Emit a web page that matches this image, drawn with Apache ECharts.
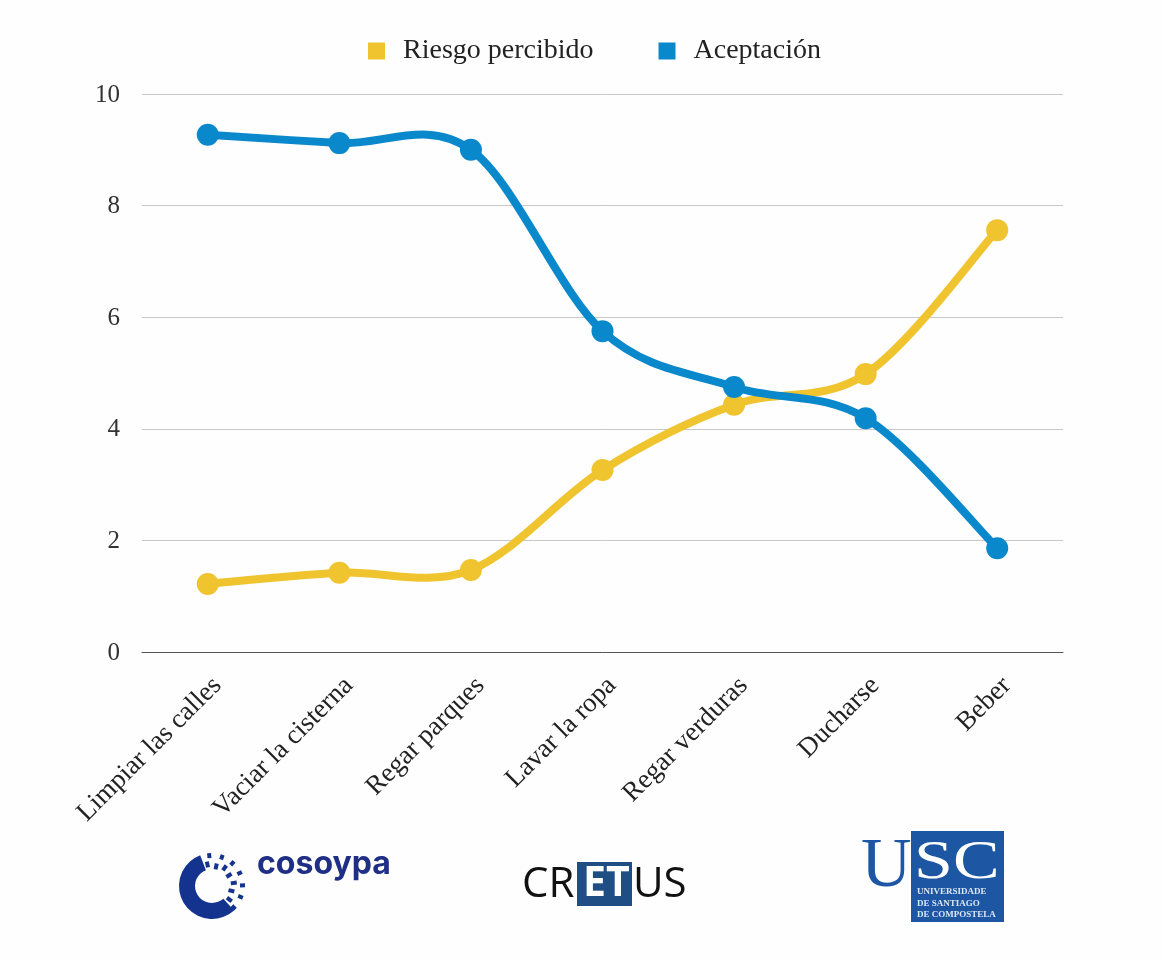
<!DOCTYPE html>
<html>
<head>
<meta charset="utf-8">
<script src="https://cdn.jsdelivr.net/npm/echarts@6/dist/echarts.min.js"></script>
<style>
html, body { margin: 0; padding: 0; background: #fefefe; }
#chart { width: 1162px; height: 960px; }
</style>
</head>
<body>
<div id="chart"></div>
<script>
var categories = ['Limpiar las calles', 'Vaciar la cisterna', 'Regar parques', 'Lavar la ropa', 'Regar verduras', 'Ducharse', 'Beber'];
var riesgo = [1.22, 1.42, 1.47, 3.26, 4.43, 4.98, 7.56];
var aceptacion = [9.27, 9.12, 9.0, 5.75, 4.75, 4.19, 1.86];

var serif = '"Liberation Serif", serif';
var yellow = '#efc42f';
var blue = '#0a88cc';

// logo cosoypa: dashes around the right side of the ring
var navy = '#14338f';
var ringDashes = [];
var dashAngles = [-102, -78, -55, -32, -8, 14, 38];
dashAngles.forEach(function (a, i) {
    var t = a * Math.PI / 180;
    var cx = 212, cy = 886;
    var inner = i % 2 ? [17, 23] : [19, 25];
    ringDashes.push({
        type: 'line',
        shape: {
            x1: cx + inner[0] * Math.cos(t), y1: cy + inner[0] * Math.sin(t),
            x2: cx + inner[1] * Math.cos(t), y2: cy + inner[1] * Math.sin(t)
        },
        style: { stroke: navy, lineWidth: 4 }
    });
    ringDashes.push({
        type: 'line',
        shape: {
            x1: cx + 28 * Math.cos(t + 0.12), y1: cy + 28 * Math.sin(t + 0.12),
            x2: cx + 33 * Math.cos(t + 0.12), y2: cy + 33 * Math.sin(t + 0.12)
        },
        style: { stroke: navy, lineWidth: 4 }
    });
});

var logos = [
    {
        type: 'sector',
        shape: { cx: 212, cy: 886, r: 33, r0: 17, startAngle: 48 * Math.PI / 180, endAngle: 249 * Math.PI / 180, clockwise: true },
        style: { fill: navy }
    },
    { type: 'text', x: 257, y: 848, style: { text: 'cosoypa', font: 'bold 32px Inter, sans-serif', fill: '#1f2f85' } },

    { type: 'rect', shape: { x: 577, y: 862, width: 55, height: 44 }, style: { fill: '#1f4e85' } },
    { type: 'text', x: 522, y: 864, style: { text: 'CR', font: '42px "Open Sans", sans-serif', fill: '#111111' } },
    { type: 'text', x: 583, y: 864, style: { text: 'ET', font: 'bold 41px "Open Sans", sans-serif', fill: '#ffffff' } },
    { type: 'text', x: 633, y: 864, style: { text: 'US', font: '42px "Open Sans", sans-serif', fill: '#111111' } },

    { type: 'rect', shape: { x: 911, y: 831, width: 93, height: 91 }, style: { fill: '#1d57a4' } },
    { type: 'text', x: 861, y: 833, style: { text: 'U', font: '70px ' + serif, fill: '#1d57a4' } },
    { type: 'text', x: 914, y: 836, scaleY: 0.78, style: { text: 'SC', font: '70px ' + serif, fill: '#ffffff' } },
    { type: 'text', x: 917, y: 887, style: { text: 'UNIVERSIDADE', font: 'bold 9px ' + serif, fill: '#dbe6f4' } },
    { type: 'text', x: 917, y: 899, style: { text: 'DE SANTIAGO', font: 'bold 9px ' + serif, fill: '#dbe6f4' } },
    { type: 'text', x: 917, y: 910, style: { text: 'DE COMPOSTELA', font: 'bold 9px ' + serif, fill: '#dbe6f4' } }
].concat(ringDashes);

// one curved piece between two neighbouring values (cardinal spline through the points)
function curveItem(values, color) {
    return function (params, api) {
        var i = params.dataIndex;
        if (i >= values.length - 1) return null;
        var pt = function (k) {
            var n = Math.max(0, Math.min(values.length - 1, k));
            return api.coord([n, values[n]]);
        };
        var p0 = pt(i - 1), p1 = pt(i), p2 = pt(i + 1), p3 = pt(i + 2);
        return {
            type: 'bezierCurve',
            shape: {
                x1: p1[0], y1: p1[1],
                cpx1: p1[0] + (p2[0] - p0[0]) / 6, cpy1: p1[1] + (p2[1] - p0[1]) / 6,
                cpx2: p2[0] - (p3[0] - p1[0]) / 6, cpy2: p2[1] - (p3[1] - p1[1]) / 6,
                x2: p2[0], y2: p2[1]
            },
            style: { stroke: color, lineWidth: 8, fill: 'none', lineCap: 'round' }
        };
    };
}

function pairs(values) {
    return values.map(function (v, i) { return [i, v]; });
}

var myChart = echarts.init(document.getElementById('chart'));
var option = {
    animation: false,
    backgroundColor: '#fefefe',
    color: [yellow, blue],
    legend: {
        top: 32,
        left: 363,
        itemWidth: 17,
        itemHeight: 17,
        itemGap: 65,
        icon: 'rect',
        selectedMode: false,
        textStyle: { fontFamily: serif, fontSize: 28, color: '#222222', padding: [0, 0, 0, 13] },
        data: ['Riesgo percibido', 'Aceptación']
    },
    grid: { left: 142, right: 99, top: 94, height: 558 },
    xAxis: {
        type: 'category',
        data: categories,
        axisTick: { show: false },
        axisLine: { lineStyle: { color: '#555555', width: 1 } },
        axisLabel: { rotate: 45, interval: 0, margin: 20, verticalAlign: 'top', fontFamily: serif, fontSize: 27, color: '#222222' }
    },
    yAxis: {
        type: 'value',
        min: 0,
        max: 10,
        interval: 2,
        axisLine: { show: false },
        axisTick: { show: false },
        axisLabel: {
            margin: 22,
            formatter: '{n|{value}}',
            rich: { n: { padding: [2, 0, 0, 0], fontFamily: serif, fontSize: 25, color: '#333333' } }
        },
        splitLine: { lineStyle: { color: '#c8c8c8', width: 1 } }
    },
    series: [
        { name: 'Riesgo percibido', type: 'custom', data: pairs(riesgo), encode: { x: 0, y: 1 }, renderItem: curveItem(riesgo, yellow), itemStyle: { color: yellow }, z: 2 },
        { name: 'Riesgo percibido', type: 'scatter', data: pairs(riesgo), symbolSize: 22, itemStyle: { color: yellow, opacity: 1 }, z: 3 },
        { name: 'Aceptación', type: 'custom', data: pairs(aceptacion), encode: { x: 0, y: 1 }, renderItem: curveItem(aceptacion, blue), itemStyle: { color: blue }, z: 4 },
        { name: 'Aceptación', type: 'scatter', data: pairs(aceptacion), symbolSize: 22, itemStyle: { color: blue, opacity: 1 }, z: 5 }
    ],
    graphic: logos
};
myChart.setOption(option);
</script>
</body>
</html>
